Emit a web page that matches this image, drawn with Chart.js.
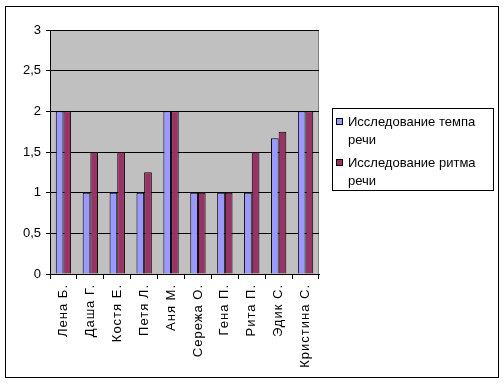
<!DOCTYPE html>
<html><head><meta charset="utf-8">
<script src="https://cdn.jsdelivr.net/npm/chart.js@4/dist/chart.umd.min.js"></script>
<style>
html,body{margin:0;padding:0;background:#fff;}
#wrap{position:absolute;left:0;top:0;width:504px;height:384px;}
#frame{position:absolute;left:5px;top:6px;width:494px;height:372px;border:1px solid #000;box-sizing:border-box;pointer-events:none;}
</style></head>
<body>
<div id="wrap"><canvas id="c" width="504" height="384"></canvas><div id="frame"></div></div>
<script>
const categories = ['Лена Б.','Даша Г.','Костя Е.','Петя Л.','Аня М.','Сережа О.','Гена П.','Рита П.','Эдик С.','Кристина С.'];
const tempoValues = [2, 1, 1, 1, 2, 1, 1, 1, 1.67, 2];
const rhythmValues = [2, 1.5, 1.5, 1.25, 2, 1, 1, 1.5, 1.75, 2];
const seriesNames = [['Исследование темпа', 'речи'], ['Исследование ритма', 'речи']];
const yTickLabels = ['0', '0,5', '1', '1,5', '2', '2,5', '3'];

const FONT = '"Liberation Sans", Arial, sans-serif';

const bgPlugin = {
  id: 'bg',
  beforeDraw(chart) {
    const {ctx, chartArea: a} = chart;
    ctx.save();
    ctx.fillStyle = '#C0C0C0';
    ctx.fillRect(a.left, a.top, a.right - a.left, a.bottom - a.top);
    ctx.strokeStyle = '#808080';
    ctx.lineWidth = 1;
    ctx.strokeRect(a.left + 0.5, a.top + 0.5, a.right - a.left - 1, a.bottom - a.top);
    ctx.restore();
  }
};

const legendPlugin = {
  id: 'boxLegend',
  afterDraw(chart) {
    const ctx = chart.ctx;
    ctx.save();
    ctx.strokeStyle = '#000';
    ctx.lineWidth = 1;
    ctx.strokeRect(332.5, 108.5, 161, 82);
    ctx.font = '13px ' + FONT;
    ctx.textBaseline = 'middle';
    const starts = [122, 163];
    chart.data.datasets.forEach((ds, i) => {
      const y = starts[i];
      ctx.fillStyle = ds.backgroundColor;
      ctx.fillRect(336, y - 4, 7, 7);
      ctx.strokeStyle = '#000';
      ctx.strokeRect(336.5, y - 3.5, 6, 6);
      ctx.fillStyle = '#000';
      seriesNames[i].forEach((line, j) => {
        ctx.fillText(line, 348, y + j * 18);
      });
    });
    ctx.restore();
  }
};

new Chart(document.getElementById('c'), {
  type: 'bar',
  data: {
    labels: categories,
    datasets: [
      { label: seriesNames[0].join(' '), data: tempoValues, backgroundColor: '#9999FF', borderColor: '#000', borderWidth: 1 },
      { label: seriesNames[1].join(' '), data: rhythmValues, backgroundColor: '#993366', borderColor: '#000', borderWidth: 1 }
    ]
  },
  options: {
    responsive: false,
    animation: false,
    devicePixelRatio: 1,
    layout: { padding: { left: 8, top: 30, right: 185, bottom: 0 } },
    datasets: { bar: { categoryPercentage: 0.571, barPercentage: 1.0 } },
    plugins: { legend: { display: false }, tooltip: { enabled: false } },
    scales: {
      x: {
        grid: { drawOnChartArea: false, drawTicks: true, tickLength: 5, color: '#000', offset: true },
        border: { color: '#000', width: 1 },
        ticks: { color: '#000', font: { family: FONT, size: 13 }, minRotation: 90, maxRotation: 90, padding: 5, autoSkip: false },
        afterFit(s) { s.height = 110; },
        afterUpdate(s) {
          if (!s._lsPatched) {
            const orig = s.drawLabels;
            s.drawLabels = function (area) {
              const ctx = this.ctx;
              ctx.save();
              ctx.letterSpacing = '1px';
              orig.call(this, area);
              ctx.restore();
            };
            s._lsPatched = true;
          }
        }
      },
      y: {
        min: 0, max: 3,
        grid: { color: '#000', tickLength: 4, drawTicks: true },
        border: { color: '#000', width: 1 },
        ticks: { stepSize: 0.5, color: '#000', font: { family: FONT, size: 13 }, padding: 5,
          callback: (v, i) => yTickLabels[i] },
        afterFit(s) { s.width = 42; }
      }
    }
  },
  plugins: [bgPlugin, legendPlugin]
});
</script>
</body></html>
